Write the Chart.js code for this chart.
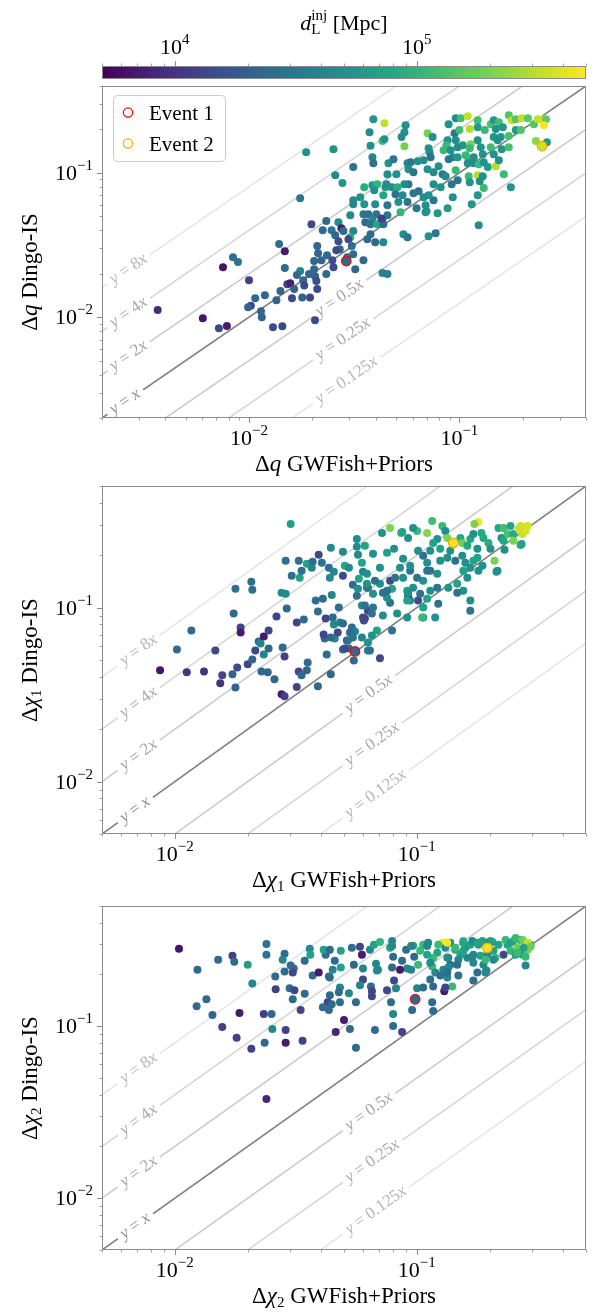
<!DOCTYPE html>
<html><head><meta charset="utf-8">
<title>Dingo-IS vs GWFish+Priors</title>
<script src="https://cdn.jsdelivr.net/npm/chart.js@4.4.1/dist/chart.umd.min.js"></script>
<style>
html,body{margin:0;padding:0;background:#fff;}
body{width:598px;height:1316px;position:relative;overflow:hidden;}
canvas{position:absolute;left:0;display:block;}
</style></head><body>
<canvas id="cbar" width="598" height="82" style="top:0px"></canvas>
<canvas id="p1" width="598" height="400" style="top:80px"></canvas>
<canvas id="p2" width="598" height="420" style="top:480px"></canvas>
<canvas id="p3" width="598" height="416" style="top:900px"></canvas>
<script>
// ---------------- DATA ----------------
const Q_RANGE = [0.002, 0.4];
const CHI_RANGE = [0.005, 0.5];
const AXIS_TICKS = [0.01, 0.1];
const AXIS_TICK_LABELS = [['10', '\u22122'], ['10', '\u22121']];
const CBAR_RANGE = [5000, 500000];
const CBAR_TICKS = [1e4, 1e5];
const CBAR_TICK_LABELS = [['10', '4'], ['10', '5']];
const RATIOS = [8, 4, 2, 1, 0.5, 0.25, 0.125];
const RATIO_LABELS = ['8', '4', '2', '', '0.5', '0.25', '0.125'];
const EVENT_LABELS = ['Event 1', 'Event 2'];

// Panel 1: Delta q
const Q_GWFISH = [0.00368,0.00603,0.00719,0.00785,0.039,0.044,0.0374,0.0431,0.044,0.0378,
0.0386,0.039,0.046,0.0187,0.0252,0.0313,0.0257,0.0278,0.0353,0.0386,
0.0407,0.0445,0.0394,0.0435,0.0175,0.0338,0.0313,0.0313,0.0353,0.0398,
0.0455,0.0303,0.035,0.0369,0.0386,0.0403,0.0431,0.0455,0.0357,0.0378,
0.0407,0.0435,0.0198,0.0233,0.0266,0.0275,0.0224,0.0247,0.0281,0.0313,
0.0303,0.0257,0.0378,0.0398,0.0435,0.0365,0.0139,0.0148,0.0211,0.0266,
0.0297,0.027,0.0308,0.0213,0.0235,0.026,0.0293,0.0313,0.035,0.00839,
0.00886,0.00752,0.0148,0.0204,0.0221,0.0249,0.0252,0.0204,0.032,0.0175,
0.0169,0.0193,0.0206,0.0233,0.0431,0.0455,0.01,0.0152,0.0157,0.0164,
0.0181,0.0183,0.0209,0.0211,0.0141,0.016,0.0179,0.0195,0.0107,0.0119,
0.0135,0.0102,0.0099,0.0114,0.0115,0.0206,0.013,0.0144,0.0555,0.0548,
0.0531,0.0548,0.0706,0.0746,0.0889,0.0961,0.1015,0.1096,0.095,0.1,
0.112,0.1222,0.1222,0.132,0.141,0.1457,0.154,0.149,0.1609,0.1718,
0.1776,0.1855,0.198,0.2117,0.2261,0.2362,0.2496,0.2582,0.2523,0.1855,
0.196,0.1718,0.1574,0.1457,0.152,0.141,0.159,0.1718,0.2312,0.2608,
0.0879,0.0869,0.0961,0.1038,0.1132,0.112,0.1222,0.1264,0.1292,0.0841,
0.0909,0.0982,0.093,0.0982,0.0889,0.1072,0.1108,0.117,0.1096,0.117,
0.1236,0.1306,0.1364,0.149,0.154,0.1457,0.1627,0.1756,0.1236,0.0714,
0.0722,0.073,0.0676,0.0706,0.0754,0.0797,0.0832,0.086,0.0961,0.0982,
0.0919,0.0815,0.0754,0.1108,0.112,0.1222,0.1292,0.125,0.1306,0.1222,
0.1145,0.093,0.0879,0.0788,0.0754,0.0691,0.0698,0.0626,0.064,0.0605,
0.0676,0.0714,0.0573,0.0548,0.0573,0.0605,0.0567,0.0633,0.0586,0.0486,
0.0455,0.0502,0.045,0.0478,0.0508,0.0497,0.0537,0.0567,0.0513,0.0525,
0.0691,0.0542,0.0567,0.0714,0.0771,0.0426];
const Q_DINGO = [0.0112,0.00984,0.00839,0.0087,0.235,0.221,0.191,0.166,0.171,0.154,
0.1285,0.1167,0.1167,0.139,0.146,0.1096,0.0964,0.0849,0.0796,0.0822,
0.0835,0.0796,0.0759,0.0701,0.0668,0.0679,0.0647,0.0607,0.0607,0.0607,
0.0597,0.0509,0.0517,0.0517,0.0478,0.0517,0.0478,0.0509,0.0455,0.0441,
0.0441,0.0441,0.0441,0.0463,0.0455,0.0414,0.0401,0.0401,0.0395,0.0395,
0.0358,0.037,0.0376,0.0331,0.0331,0.0347,0.0321,0.0286,0.0311,0.0336,
0.0347,0.0296,0.0311,0.0277,0.0269,0.0291,0.026,0.0273,0.0248,0.026,
0.0241,0.0222,0.0219,0.0245,0.0248,0.0248,0.0222,0.0215,0.0215,0.0209,
0.0196,0.0199,0.0192,0.0199,0.0202,0.0199,0.018,0.0169,0.0172,0.0157,
0.018,0.0166,0.0178,0.0157,0.0152,0.0135,0.0137,0.0137,0.0135,0.0142,
0.0131,0.012,0.0117,0.011,0.01,0.00953,0.00852,0.00866,0.214,0.191,
0.177,0.153,0.188,0.177,0.2175,0.239,0.239,0.247,0.188,0.198,
0.201,0.232,0.2074,0.198,0.2175,0.232,0.2245,0.201,0.2074,0.251,
0.232,0.235,0.239,0.239,0.2175,0.235,0.235,0.235,0.214,0.198,
0.198,0.18,0.177,0.177,0.1685,0.1507,0.146,0.1507,0.166,0.1633,
0.1685,0.1556,0.1685,0.1556,0.158,0.1483,0.1685,0.1507,0.1348,0.1437,
0.1437,0.1507,0.1285,0.1285,0.1245,0.1327,0.1245,0.1285,0.1167,0.1167,
0.1149,0.1186,0.1096,0.1113,0.1225,0.1348,0.0979,0.0796,0.0434,0.1483,
0.1392,0.1285,0.1225,0.1061,0.1011,0.1113,0.0979,0.0949,0.1044,0.089,
0.0835,0.0796,0.0835,0.0949,0.0862,0.0964,0.0949,0.0876,0.0784,0.0701,
0.0607,0.0679,0.0569,0.0525,0.0647,0.0597,0.0543,0.0569,0.0747,0.0723,
0.0679,0.0701,0.0835,0.0835,0.1061,0.1011,0.1167,0.1205,0.1186,0.1245,
0.0979,0.0979,0.0835,0.0796,0.0796,0.0712,0.0701,0.0627,0.0627,0.0534,
0.0534,0.0376,0.0358,0.0364,0.0382,0.0482];
const Q_DL = [9000,6300,14000,7000,52000,320000,46000,120000,50000,50000,
45000,28000,50000,50000,52000,28000,45000,55000,90000,60000,
100000,60000,50000,80000,30000,50000,48000,42000,52000,46000,
30000,45000,30000,26000,44000,28000,25000,30000,24000,28000,
80000,26000,14000,24000,45000,7000,24000,28000,25000,42000,
100000,25000,26000,24000,42000,25000,26000,7000,24000,15000,
14000,24000,26000,23000,25000,14000,24000,26000,25000,26000,
28000,6500,25000,23000,22000,15000,14000,23000,24000,40000,
24000,23000,22000,24000,38000,36000,12000,13000,7500,22000,
23000,14000,15000,14000,22000,13000,22000,13000,24000,23000,
21000,12000,22000,23000,22000,14000,15000,14000,50000,50000,
46000,190000,190000,48000,50000,46000,120000,330000,30000,120000,
300000,120000,60000,110000,130000,55000,120000,50000,55000,140000,
330000,150000,330000,150000,140000,330000,350000,160000,460000,60000,
140000,130000,55000,55000,50000,120000,55000,130000,220000,60000,
50000,110000,50000,55000,200000,110000,50000,55000,50000,110000,
50000,46000,50000,55000,30000,110000,110000,50000,50000,46000,
110000,50000,55000,300000,50000,50000,110000,55000,48000,50000,
46000,30000,46000,50000,46000,50000,30000,46000,110000,30000,
30000,50000,46000,110000,50000,300000,50000,46000,110000,55000,
55000,50000,60000,55000,30000,50000,46000,30000,28000,30000,
46000,50000,30000,46000,50000,30000,46000,50000,30000,28000,
46000,50000,46000,50000,90000,28000,46000,30000,50000,100000,
50000,46000,30000,50000,30000,12000];
const EV_Q_GWFISH = [0.029, 0.247];
const EV_Q_DINGO = [0.0245, 0.153];
const EV_Q_DL = [25000, 350000];

// Panel 2: Delta chi_1
const CHI1_GWFISH = [0.00869,0.0102,0.0112,0.0117,0.0132,0.0147,0.0154,0.0157,0.0173,0.0178,
0.0181,0.0175,0.0178,0.0187,0.0187,0.0207,0.0209,0.02,0.0209,0.0215,
0.0222,0.0226,0.0233,0.0228,0.0242,0.0233,0.0244,0.0244,0.0258,0.0263,
0.0276,0.0284,0.0279,0.0284,0.0276,0.0287,0.0287,0.029,0.0301,0.0304,
0.0319,0.0319,0.0325,0.0325,0.0334,0.0328,0.0334,0.0341,0.0351,0.0354,
0.0351,0.0368,0.0371,0.0382,0.039,0.039,0.0393,0.0405,0.0409,0.0416,
0.042,0.0412,0.0433,0.0437,0.0441,0.0441,0.0449,0.0454,0.0458,0.0454,
0.0445,0.0441,0.0424,0.0495,0.0495,0.0504,0.0524,0.0476,0.0481,0.0495,
0.0514,0.0524,0.0495,0.0549,0.0565,0.0565,0.0571,0.0593,0.0599,0.0576,
0.0544,0.0565,0.0593,0.061,0.0622,0.061,0.0539,0.0555,0.0529,0.0593,
0.0628,0.0471,0.0704,0.064,0.1796,0.1729,0.1157,0.1274,0.0775,0.0718,
0.0861,0.092,0.1002,0.1103,0.1311,0.1336,0.1214,0.1168,0.1249,0.1374,
0.1513,0.1541,0.1617,0.1663,0.1712,0.1848,0.1884,0.1976,0.1779,0.2014,
0.2175,0.2281,0.2438,0.2238,0.237,0.2509,0.2281,0.2509,0.2633,0.2735,
0.2814,0.2869,0.2683,0.2303,0.2683,0.1136,0.1062,0.1103,0.1249,0.1336,
0.1442,0.1541,0.1586,0.1712,0.1663,0.1779,0.2093,0.2153,0.1136,0.1214,
0.1062,0.1002,0.0938,0.0877,0.0852,0.0965,0.0912,0.0938,0.1032,0.1136,
0.1214,0.1349,0.1469,0.1556,0.1663,0.1663,0.1062,0.1012,0.092,0.1103,
0.1226,0.1062,0.0912,0.0829,0.0775,0.0753,0.0724,0.079,0.0704,0.0775,
0.0813,0.0671,0.0659,0.0628,0.061,0.0599,0.0622,0.0571,0.0652,0.0659,
0.0724,0.079,0.0684,0.0652,0.0628,0.0544,0.0519,0.0504,0.1556,0.1617,
0.1796,0.1866,0.0912,0.1469,0.1191,0.0965,0.087,0.2133,0.2709,0.1052,
0.0628,0.0604,0.0753,0.092,0.0622,0.0659,0.0704,0.0753,0.0805,0.0877,
0.0938,0.1012,0.1103];
const CHI1_DINGO = [0.0436,0.0575,0.0425,0.0738,0.043,0.0567,0.0367,0.0408,0.0414,0.0348,
0.0453,0.0924,0.1285,0.0768,0.0719,0.1409,0.1268,0.0472,0.0504,0.0567,
0.0639,0.0622,0.0538,0.043,0.0425,0.0682,0.0738,0.0583,0.0387,0.0888,
0.0318,0.0309,0.059,0.0524,0.1219,0.12,0.1858,0.0987,0.3027,0.1525,
0.0821,0.035,0.1858,0.043,0.0408,0.1485,0.1628,0.0855,0.0436,0.0484,
0.1786,0.1694,0.1834,0.1097,0.0353,0.0949,0.2011,0.181,0.1126,0.0664,
0.0865,0.0701,0.1694,0.1485,0.2205,0.0414,0.0877,0.0799,0.0664,0.1607,
0.118,0.0673,0.0538,0.2092,0.1525,0.1739,0.1694,0.1,0.0821,0.081,
0.0647,0.0583,0.0575,0.0497,0.2483,0.2235,0.2011,0.181,0.1607,0.1466,
0.1354,0.1172,0.1027,0.2265,0.1302,0.0865,0.0768,0.0728,0.0719,0.0673,
0.0961,0.0719,0.0511,0.0567,0.3107,0.3027,0.3148,0.2948,0.2871,0.2687,
0.2687,0.2516,0.276,0.2687,0.276,0.2516,0.2483,0.2355,0.2177,0.212,
0.2516,0.2355,0.2265,0.2483,0.2652,0.2687,0.2516,0.2355,0.2177,0.2177,
0.2871,0.2871,0.2948,0.2516,0.265,0.265,0.2419,0.2419,0.2834,0.265,
0.276,0.2948,0.2948,0.2148,0.2294,0.212,0.1985,0.181,0.1858,0.1933,
0.1858,0.1985,0.181,0.1858,0.1694,0.1933,0.1858,0.1628,0.1628,0.1566,
0.1428,0.1485,0.1628,0.1485,0.1694,0.1302,0.1252,0.1097,0.1203,0.1252,
0.1302,0.1302,0.1372,0.1252,0.1097,0.0961,0.1,0.1097,0.1172,0.1126,
0.1054,0.0877,0.0877,0.0924,0.1068,0.1141,0.1219,0.1285,0.1372,0.1428,
0.1485,0.1428,0.1203,0.1302,0.1027,0.0877,0.1372,0.1285,0.0924,0.1,
0.09,0.0738,0.0738,0.0692,0.0631,0.0673,0.0647,0.0583,0.1628,0.1485,
0.1628,0.1739,0.1097,0.1219,0.0877,0.2871,0.2723,0.1607,0.2324,0.0877,
0.0567,0.0843,0.1252,0.1219,0.1566,0.2037,0.1694,0.2064,0.2177,0.1908,
0.1739,0.212,0.1628];
const CHI1_DL = [6300,25000,10000,25000,10000,13000,10000,13000,22000,22000,
15000,25000,26000,13000,7000,26000,26000,13000,24000,13000,
24000,40000,40000,23000,23000,7000,13000,24000,23000,13000,
7000,12000,24000,12000,45000,42000,26000,24000,65000,26000,
13000,13000,26000,13000,23000,70000,26000,24000,23000,24000,
70000,40000,26000,26000,24000,26000,14000,28000,26000,25000,
13000,13000,26000,42000,45000,24000,25000,40000,40000,42000,
40000,25000,25000,45000,14000,80000,45000,26000,40000,25000,
13000,25000,25000,25000,45000,45000,42000,70000,42000,70000,
26000,26000,42000,70000,42000,13000,25000,40000,25000,40000,
13000,13000,13000,25000,480000,200000,120000,110000,200000,50000,
100000,50000,110000,220000,50000,200000,50000,70000,70000,50000,
80000,180000,80000,80000,50000,80000,80000,90000,50000,50000,
80000,120000,80000,50000,130000,80000,80000,200000,350000,350000,
380000,380000,350000,50000,80000,50000,28000,50000,50000,50000,
28000,50000,50000,70000,50000,70000,200000,50000,28000,50000,
50000,28000,28000,50000,50000,50000,70000,50000,28000,50000,
28000,50000,70000,50000,50000,28000,70000,15000,15000,70000,
28000,50000,50000,50000,28000,50000,28000,70000,50000,14000,
28000,28000,50000,28000,28000,14000,50000,50000,28000,28000,
50000,28000,70000,50000,50000,28000,28000,14000,70000,50000,
50000,50000,70000,28000,50000,50000,70000,50000,70000,110000,
28000,14000,28000,50000,50000,50000,50000,70000,50000,50000,
50000,50000,28000];
const EV_CHI1_GWFISH = [0.0555, 0.1414];
const EV_CHI1_DINGO = [0.056, 0.2355];
const EV_CHI1_DL = [25000, 460000];

// Panel 3: Delta chi_2
const CHI2_GWFISH = [0.0104,0.0124,0.0151,0.0173,0.0176,0.02,0.0239,0.0239,0.0284,0.0279,
0.026,0.0209,0.0135,0.0123,0.0143,0.0157,0.018,0.0185,0.0207,0.0233,
0.0251,0.0261,0.0235,0.0253,0.0287,0.0287,0.0337,0.0239,0.0301,0.031,
0.0284,0.0307,0.0298,0.0312,0.0307,0.0344,0.0331,0.0344,0.0361,0.0363,
0.0371,0.0393,0.0433,0.042,0.0412,0.0437,0.0458,0.0449,0.0485,0.0485,
0.0539,0.0582,0.0593,0.064,0.0665,0.0549,0.0599,0.0678,0.0691,0.0704,
0.079,0.0775,0.0798,0.0869,0.0903,0.0965,0.0975,0.1062,0.1012,0.0947,
0.0912,0.079,0.0852,0.0599,0.0805,0.0684,0.0437,0.0437,0.0481,0.0476,
0.0524,0.0582,0.0646,0.0652,0.0652,0.0753,0.082,0.1002,0.1062,0.1168,
0.1298,0.1401,0.0428,0.0445,0.0481,0.0409,0.0433,0.056,0.0782,0.1157,
0.0956,0.1168,0.0798,0.05,0.0529,0.0462,0.0671,0.0798,0.0869,0.056,
0.1114,0.1157,0.1214,0.1274,0.1311,0.1349,0.1374,0.1286,0.1191,0.1249,
0.1336,0.1442,0.1513,0.1556,0.1586,0.1663,0.1484,0.1697,0.1796,0.1831,
0.1712,0.1779,0.1884,0.1939,0.2014,0.2073,0.2113,0.2175,0.2281,0.237,
0.2438,0.2509,0.2607,0.2683,0.2735,0.2814,0.2869,0.2952,0.2814,0.2814,
0.1556,0.1374,0.1921,0.2558,0.079,0.0947,0.1103,0.1226,0.1336,0.1442,
0.1556,0.1696,0.1779,0.1866,0.2054,0.2325,0.2438,0.2558,0.2735,0.2869,
0.2952,0.276,0.2607,0.1957,0.1712,0.1617,0.1484,0.1336,0.1168,0.1103,
0.1032,0.1136,0.1349,0.1469,0.1712,0.1921,0.2073,0.1921,0.1336,0.1136,
0.1311];
const CHI2_DINGO = [0.2818,0.2133,0.2437,0.257,0.2373,0.228,0.3011,0.2604,0.2636,0.2437,
0.1945,0.1774,0.1435,0.1308,0.1161,0.0991,0.0857,0.1193,0.074,0.1177,
0.1177,0.1638,0.0802,0.0965,0.0952,0.0802,0.0823,0.0377,0.2251,0.2163,
0.208,0.2051,0.166,0.1617,0.1435,0.1544,0.1241,0.2404,0.2818,0.2604,
0.1972,0.2051,0.1945,0.2604,0.278,0.278,0.2404,0.2133,0.2193,0.2745,
0.2856,0.2894,0.2604,0.278,0.2972,0.228,0.2163,0.2311,0.2133,0.3092,
0.3133,0.2856,0.2535,0.2404,0.278,0.2933,0.2535,0.2972,0.228,0.2133,
0.2163,0.2193,0.2133,0.187,0.1845,0.2107,0.1514,0.192,0.1682,0.1574,
0.1554,0.1728,0.1704,0.1596,0.1494,0.1617,0.166,0.166,0.1682,0.1704,
0.1596,0.1704,0.1379,0.1343,0.1379,0.1291,0.1241,0.1379,0.1379,0.1379,
0.1241,0.1225,0.1177,0.1087,0.0965,0.0927,0.0952,0.1004,0.0927,0.075,
0.3052,0.2221,0.2673,0.3052,0.2856,0.25,0.228,0.2133,0.2051,0.1972,
0.192,0.278,0.2604,0.3133,0.2856,0.2972,0.1972,0.2535,0.2972,0.257,
0.1845,0.2051,0.228,0.2107,0.3133,0.2745,0.25,0.2972,0.2604,0.2972,
0.2745,0.3133,0.2856,0.3175,0.2604,0.2972,0.278,0.2972,0.2251,0.2535,
0.2745,0.3052,0.3052,0.2604,0.2931,0.2931,0.2931,0.2972,0.3052,0.2856,
0.3052,0.3133,0.3052,0.3133,0.3092,0.3175,0.3052,0.326,0.3175,0.3052,
0.2894,0.2856,0.2673,0.2604,0.2604,0.25,0.2437,0.25,0.25,0.2604,
0.2745,0.2342,0.2193,0.228,0.2342,0.2437,0.2437,0.2051,0.2051,0.187,
0.1682];
const CHI2_DL = [6300,25000,25000,12000,25000,65000,28000,28000,26000,40000,
25000,40000,25000,25000,23000,12000,12000,7000,12000,12000,
23000,12000,23000,40000,12000,7000,12000,8000,25000,25000,
25000,13000,25000,13000,25000,25000,13000,25000,42000,70000,
25000,7000,26000,26000,70000,26000,25000,40000,70000,70000,
26000,13000,7000,42000,70000,25000,40000,42000,42000,100000,
42000,70000,25000,25000,26000,70000,25000,110000,110000,40000,
40000,25000,7000,13000,13000,42000,25000,25000,40000,25000,
40000,40000,25000,13000,13000,13000,40000,40000,25000,25000,
7000,110000,13000,25000,25000,25000,25000,25000,25000,25000,
25000,25000,40000,7000,25000,8000,25000,25000,13000,25000,
42000,110000,70000,460000,42000,26000,26000,42000,42000,26000,
42000,70000,70000,110000,42000,70000,26000,42000,70000,70000,
26000,26000,42000,42000,70000,70000,110000,70000,13000,70000,
110000,110000,180000,70000,70000,320000,180000,110000,42000,110000,
70000,42000,42000,70000,42000,42000,42000,110000,460000,110000,
70000,42000,70000,70000,70000,110000,70000,110000,180000,320000,
180000,70000,110000,42000,42000,42000,42000,42000,110000,70000,
110000,42000,42000,26000,42000,110000,42000,42000,26000,26000,
13000];
const EV_CHI2_GWFISH = [0.0984, 0.1957];
const EV_CHI2_DINGO = [0.1435, 0.2856];
const EV_CHI2_DL = [25000, 460000];

// ---------------- STYLE ----------------
const FONT = "'Liberation Serif','Times New Roman',Times,serif";
const AXIS_COLOR = '#8a8a8a';
const EVENT_COLORS = ['#ff0000', '#ffa500'];
const RATIO_LINE_COLORS = ['#e4e4e4','#d4d4d4','#c8c8c8','#808080','#c8c8c8','#d4d4d4','#e4e4e4'];
const RATIO_TEXT_COLORS = ['#b4b4b4','#a8a8a8','#a2a2a2','#8c8c8c','#a2a2a2','#a8a8a8','#b4b4b4'];
const VIR = [[68,1,84],[72,36,117],[65,68,135],[53,95,141],[42,120,142],[33,145,140],[34,168,132],[68,191,112],[122,209,81],[189,223,38],[253,231,37]];
const TS = 22, ES = 15, TITLE_S = 23, RATIO_S = 17;

function viridis(t) {
  t = Math.max(0, Math.min(1, t));
  const s = t * 10, i = Math.min(9, Math.floor(s)), f = s - i;
  const a = VIR[i], b = VIR[i + 1];
  return 'rgb(' + [0,1,2].map(k => Math.round(a[k] + (b[k] - a[k]) * f)).join(',') + ')';
}
function dlColor(d) {
  const l0 = Math.log10(CBAR_RANGE[0]), l1 = Math.log10(CBAR_RANGE[1]);
  return viridis((Math.log10(d) - l0) / (l1 - l0));
}
function fnt(s, it) { return (it ? 'italic ' : '') + s + 'px ' + FONT; }
function measureParts(ctx, parts) {
  let w = 0;
  for (const p of parts) { ctx.font = fnt(p.s, p.i); p.w = ctx.measureText(p.t).width; if (!p.na) w += p.w; }
  return w;
}
function drawParts(ctx, parts, x, y) {
  let cx = x;
  for (const p of parts) { ctx.font = fnt(p.s, p.i); ctx.fillText(p.t, cx, y + (p.dy || 0)); if (!p.na) cx += p.w; }
}
function drawRich(ctx, parts, x, y, align) {
  const w = measureParts(ctx, parts);
  const sx = align === 'center' ? x - w / 2 : (align === 'right' ? x - w : x);
  drawParts(ctx, parts, sx, y);
  return w;
}
function powParts(lbl) { return [{t: lbl[0], s: TS}, {t: lbl[1], s: ES, dy: -10}]; }
function minorTicks(min, max) {
  const out = [];
  for (let e = Math.floor(Math.log10(min)) - 1; e <= Math.ceil(Math.log10(max)); e++) {
    for (let m = 2; m <= 9; m++) {
      const v = m * Math.pow(10, e);
      if (v >= min * 0.999 && v <= max * 1.001) out.push(v);
    }
  }
  return out;
}
function ratioParts(i) {
  const s = RATIO_S;
  const p = [{t: 'y', i: 1, s: s}, {t: ' = ', s: s}];
  if (RATIO_LABELS[i]) p.push({t: RATIO_LABELS[i], s: s});
  p.push({t: 'x', i: 1, s: s});
  return p;
}

function drawRatioLabel(chart, idx, cfg) {
  const xs = chart.scales.x, ys = chart.scales.y, ctx = chart.ctx;
  const k = RATIOS[idx];
  const lx = k >= 1 ? cfg.labelStart[0] : cfg.labelStart[1];
  const x0 = xs.getPixelForValue(lx), y0 = ys.getPixelForValue(k * lx);
  const x1 = xs.getPixelForValue(lx * 10), y1 = ys.getPixelForValue(k * lx * 10);
  const ang = Math.atan2(y1 - y0, x1 - x0);
  ctx.save();
  const parts = ratioParts(idx);
  const w = measureParts(ctx, parts);
  const cx = x0 + Math.cos(ang) * w / 2, cy = y0 + Math.sin(ang) * w / 2;
  ctx.translate(cx, cy);
  ctx.rotate(ang);
  ctx.fillStyle = '#ffffff';
  ctx.fillRect(-w / 2 - 5, -9, w + 10, 18);
  ctx.fillStyle = RATIO_TEXT_COLORS[idx];
  ctx.textBaseline = 'alphabetic';
  drawParts(ctx, parts, -w / 2, 4);
  ctx.restore();
}

function panelPlugin(cfg) {
  return {
    id: 'decor_' + cfg.id,
    afterDatasetDraw(chart, args) {
      const ds = chart.data.datasets[args.index];
      if (ds.ratioIndex === undefined) return;
      drawRatioLabel(chart, ds.ratioIndex, cfg);
    },
    afterDraw(chart) {
      const ctx = chart.ctx, a = chart.chartArea, xs = chart.scales.x, ys = chart.scales.y;
      ctx.save();
      ctx.strokeStyle = AXIS_COLOR;
      ctx.lineWidth = 1;
      const L = Math.round(a.left) + 0.5, R = Math.round(a.right) - 0.5;
      const T = Math.round(a.top) + 0.5, B = Math.round(a.bottom) - 0.5;
      ctx.strokeRect(L, T, R - L, B - T);
      const r = cfg.range;
      const drawX = (v, len) => { const p = Math.round(xs.getPixelForValue(v)) + 0.5; ctx.beginPath(); ctx.moveTo(p, B); ctx.lineTo(p, B + len); ctx.stroke(); };
      const drawY = (v, len) => { const p = Math.round(ys.getPixelForValue(v)) + 0.5; ctx.beginPath(); ctx.moveTo(L, p); ctx.lineTo(L - len, p); ctx.stroke(); };
      ctx.lineWidth = 0.8;
      minorTicks(r[0], r[1]).forEach(v => { drawX(v, 3); drawY(v, 3); });
      ctx.lineWidth = 1;
      AXIS_TICKS.forEach(v => { drawX(v, 5.5); drawY(v, 5.5); });
      ctx.fillStyle = '#000';
      ctx.textBaseline = 'alphabetic';
      AXIS_TICKS.forEach((v, i) => {
        drawRich(ctx, powParts(AXIS_TICK_LABELS[i]), xs.getPixelForValue(v), a.bottom + 27, 'center');
        drawRich(ctx, powParts(AXIS_TICK_LABELS[i]), a.left - 9, ys.getPixelForValue(v) + 7, 'right');
      });
      const S = TITLE_S;
      const sym = cfg.sym.map(p => Object.assign({s: S}, p));
      const xt = [{t: '\u0394', s: S}].concat(sym, [{t: ' GWFish+Priors', s: S}]);
      drawRich(ctx, xt, (a.left + a.right) / 2, a.bottom + 53, 'center');
      const yt = [{t: '\u0394', s: S}].concat(sym.map(p => Object.assign({}, p)), [{t: ' Dingo-IS', s: S}]);
      ctx.save();
      ctx.translate(37, (a.top + a.bottom) / 2 + cfg.yTitleShift);
      ctx.rotate(-Math.PI / 2);
      drawRich(ctx, yt, 0, 0, 'center');
      ctx.restore();
      if (cfg.legend) {
        ctx.fillStyle = 'rgba(255,255,255,0.85)';
        ctx.strokeStyle = '#cccccc';
        ctx.lineWidth = 1;
        ctx.beginPath();
        ctx.roundRect(113.5, 15.5, 112, 66, 4);
        ctx.fill();
        ctx.stroke();
        EVENT_LABELS.forEach((lab, j) => {
          const cy = 32.5 + 31 * j;
          ctx.beginPath();
          ctx.arc(128, cy, 4.6, 0, Math.PI * 2);
          ctx.strokeStyle = EVENT_COLORS[j];
          ctx.lineWidth = 1.2;
          ctx.stroke();
          ctx.fillStyle = '#000';
          ctx.font = fnt(21, false);
          ctx.fillText(lab, 149, cy + 7);
        });
      }
      ctx.restore();
    }
  };
}

function makePanel(cfg) {
  const r = cfg.range;
  const datasets = [];
  RATIOS.forEach((k, i) => {
    datasets.push({
      label: 'ratio', ratioIndex: i, showLine: true,
      data: [{x: r[0], y: k * r[0]}, {x: r[1], y: k * r[1]}],
      borderColor: RATIO_LINE_COLORS[i], borderWidth: i === 3 ? 1.6 : 1.5,
      pointRadius: 0, pointHoverRadius: 0, fill: false, order: 10
    });
  });
  datasets.push({
    label: 'injections',
    data: cfg.gx.map((x, i) => ({x: x, y: cfg.gy[i]})),
    pointBackgroundColor: cfg.dl.map(dlColor),
    pointBorderWidth: 0, pointRadius: 4, pointHoverRadius: 4, showLine: false, order: 1
  });
  EVENT_LABELS.forEach((lab, j) => {
    datasets.push({
      label: lab,
      data: [{x: cfg.ex[j], y: cfg.ey[j]}],
      pointBackgroundColor: dlColor(cfg.ed[j]),
      pointBorderColor: EVENT_COLORS[j], pointBorderWidth: 1.2,
      pointRadius: 4.8, pointHoverRadius: 4.8, showLine: false, order: 0
    });
  });
  return new Chart(document.getElementById(cfg.id), {
    type: 'scatter',
    data: {datasets: datasets},
    options: {
      responsive: false, animation: false, events: [],
      layout: {padding: {left: 0, right: 12, top: cfg.padTop, bottom: 0}},
      plugins: {legend: {display: false}, tooltip: {enabled: false}},
      scales: {
        x: {type: 'logarithmic', min: r[0], max: r[1], grid: {display: false}, border: {display: false},
            ticks: {display: false}, afterFit: s => { s.height = cfg.xH; }},
        y: {type: 'logarithmic', min: r[0], max: r[1], grid: {display: false}, border: {display: false},
            ticks: {display: false}, afterFit: s => { s.width = 102; }}
      }
    },
    plugins: [panelPlugin(cfg)]
  });
}

makePanel({id: 'p1', gx: Q_GWFISH, gy: Q_DINGO, dl: Q_DL, ex: EV_Q_GWFISH, ey: EV_Q_DINGO, ed: EV_Q_DL,
  range: Q_RANGE, sym: [{t: 'q', i: 1}], padTop: 3, xH: 62, labelStart: [0.00222, 0.0211], legend: true, yTitleShift: 20});
makePanel({id: 'p2', gx: CHI1_GWFISH, gy: CHI1_DINGO, dl: CHI1_DL, ex: EV_CHI1_GWFISH, ey: EV_CHI1_DINGO, ed: EV_CHI1_DL,
  range: CHI_RANGE, sym: [{t: '\u03c7', i: 1}, {t: '1', s: 15, dy: 4}], padTop: 5.7, xH: 66, labelStart: [0.00604, 0.0514], yTitleShift: 0});
makePanel({id: 'p3', gx: CHI2_GWFISH, gy: CHI2_DINGO, dl: CHI2_DL, ex: EV_CHI2_GWFISH, ey: EV_CHI2_DINGO, ed: EV_CHI2_DL,
  range: CHI_RANGE, sym: [{t: '\u03c7', i: 1}, {t: '2', s: 15, dy: 4}], padTop: 2.7, xH: 66, labelStart: [0.00604, 0.0514], yTitleShift: 0});

// Colorbar
new Chart(document.getElementById('cbar'), {
  type: 'scatter',
  data: {datasets: [{data: []}]},
  options: {
    responsive: false, animation: false, events: [],
    layout: {padding: {left: 102, right: 12, top: 66, bottom: 3}},
    plugins: {legend: {display: false}, tooltip: {enabled: false}},
    scales: {
      x: {type: 'logarithmic', min: CBAR_RANGE[0], max: CBAR_RANGE[1], display: false},
      y: {min: 0, max: 1, display: false}
    }
  },
  plugins: [{
    id: 'cbarDraw',
    afterDraw(chart) {
      const ctx = chart.ctx, a = chart.chartArea, xs = chart.scales.x;
      ctx.save();
      const g = ctx.createLinearGradient(a.left, 0, a.right, 0);
      VIR.forEach((c, i) => g.addColorStop(i / 10, 'rgb(' + c.join(',') + ')'));
      ctx.fillStyle = g;
      ctx.fillRect(a.left, a.top, a.right - a.left, a.bottom - a.top);
      ctx.strokeStyle = AXIS_COLOR;
      ctx.lineWidth = 1;
      const L = Math.round(a.left) + 0.5, R = Math.round(a.right) - 0.5, T = Math.round(a.top) + 0.5, B = Math.round(a.bottom) - 0.5;
      ctx.strokeRect(L, T, R - L, B - T);
      const tick = (v, len) => { const p = Math.round(xs.getPixelForValue(v)) + 0.5; ctx.beginPath(); ctx.moveTo(p, T); ctx.lineTo(p, T - len); ctx.stroke(); };
      ctx.lineWidth = 0.8;
      minorTicks(CBAR_RANGE[0], CBAR_RANGE[1]).forEach(v => tick(v, 3));
      ctx.lineWidth = 1;
      CBAR_TICKS.forEach(v => tick(v, 5.5));
      ctx.fillStyle = '#000';
      CBAR_TICKS.forEach((v, i) => drawRich(ctx, powParts(CBAR_TICK_LABELS[i]), xs.getPixelForValue(v), a.top - 12, 'center'));
      const title = [{t: 'd', s: 22, i: 1}, {t: 'L', s: 15, dy: 4, na: true}, {t: 'inj', s: 15, dy: -10}, {t: ' [Mpc]', s: 22}];
      drawRich(ctx, title, (a.left + a.right) / 2, 30, 'center');
      ctx.restore();
    }
  }]
});
</script>
</body></html>
